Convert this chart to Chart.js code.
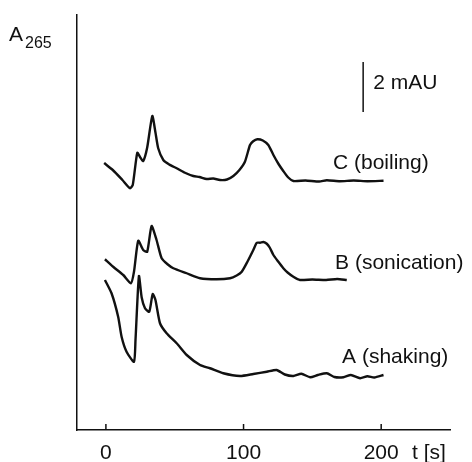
<!DOCTYPE html>
<html>
<head>
<meta charset="utf-8">
<script src="https://cdn.jsdelivr.net/npm/chart.js@4"></script>
<style>
  html, body { margin: 0; padding: 0; background: #fff; }
  #wrap { width: 472px; height: 462px; }
</style>
</head>
<body>
<div id="wrap"><canvas id="traceChart" width="472" height="462"></canvas></div>
<script>
// time axis ticks [s]
const xTicks = [0, 100, 200];

// C (boiling)
const timeC = [-1.3, 5, 12, 17.5, 19.5, 22.8, 25, 27.1, 30, 33.7, 36, 38, 41.7, 46, 51.4, 57, 63.5, 68, 73.2, 78, 82.9, 88, 92.6, 97, 101, 104.7, 107, 110, 114, 118, 121.7, 125.3, 129, 132.5, 136.2, 145, 155, 160.5, 170, 180, 190, 201.7];
const absC = [10.68, 10.4, 10.0, 9.67, 9.8, 11.09, 10.9, 10.76, 11.3, 12.56, 11.9, 11.27, 10.8, 10.62, 10.47, 10.3, 10.16, 10.12, 10.04, 10.06, 10.0, 10.02, 10.16, 10.4, 10.73, 11.4, 11.55, 11.63, 11.58, 11.4, 11.0, 10.65, 10.35, 10.1, 9.96, 9.98, 9.94, 9.99, 9.95, 9.98, 9.95, 9.97];

// B (sonication)
const timeB = [-0.7, 5.3, 12.6, 18.2, 20.4, 23.5, 27.1, 30, 33.2, 36.8, 40.5, 45, 49, 58.7, 68.4, 80.5, 90.2, 95, 98.7, 103, 107.1, 109.6, 112, 114.5, 116.9, 119, 121.7, 125, 128.9, 132, 136.2, 141, 150, 160, 168, 175];
const absB = [6.83, 6.53, 6.2, 5.87, 6.33, 7.57, 7.2, 7.13, 8.16, 7.6, 6.87, 6.62, 6.47, 6.27, 6.07, 6.03, 6.07, 6.18, 6.33, 6.75, 7.2, 7.49, 7.49, 7.52, 7.45, 7.3, 7.0, 6.75, 6.47, 6.3, 6.13, 6.0, 6.02, 6.0, 6.04, 6.0];

// A (shaking)
const timeA = [-0.7, 4.1, 8.9, 11.4, 15, 20.4, 21.5, 24, 26, 28.4, 31.5, 34, 36, 39.3, 44.1, 51.4, 58.7, 68.4, 75.6, 85.3, 97.5, 107.1, 116.9, 124, 130, 136.2, 142, 148.4, 154, 160.5, 166, 172.6, 178, 184.7, 190, 195, 201.7];
const absA = [6.0, 5.47, 4.53, 3.73, 3.13, 2.73, 3.6, 6.16, 5.3, 4.87, 4.73, 5.44, 5.2, 4.27, 3.87, 3.47, 3.0, 2.6, 2.47, 2.27, 2.16, 2.24, 2.33, 2.4, 2.22, 2.16, 2.25, 2.11, 2.2, 2.27, 2.12, 2.11, 2.2, 2.07, 2.15, 2.1, 2.2];

// curve labels: [text, t, A]
const curveLabels = [
  ['C (boiling)', 165, 10.68],
  ['B (sonication)', 166.5, 6.68],
  ['A (shaking)', 171.6, 2.92],
];

// 2 mAU scale bar
const barTime = 186.9;
const barFrom = 12.72;
const barTo = 14.72;

const FONT = '"Liberation Sans", Arial, sans-serif';
const INK = '#111';

const toPoints = (ts, ys) => ts.map((t, i) => ({ x: t, y: ys[i] }));

const trace = (label, ts, ys) => ({
  label: label,
  data: toPoints(ts, ys),
  borderColor: INK,
  borderWidth: 2.4,
  pointRadius: 0,
  tension: 0.2,
  fill: false,
});

// inward tick marks, labels, scale bar
const decorations = {
  id: 'decorations',
  afterDraw(chart) {
    const ctx = chart.ctx;
    const xs = chart.scales.x;
    const ys = chart.scales.y;
    const area = chart.chartArea;
    ctx.save();
    ctx.strokeStyle = INK;
    ctx.fillStyle = INK;
    ctx.lineWidth = 1.5;

    xTicks.forEach(v => {
      const px = xs.getPixelForValue(v);
      ctx.beginPath();
      ctx.moveTo(px, area.bottom);
      ctx.lineTo(px, area.bottom - 6);
      ctx.stroke();
    });

    // scale bar
    const bx = xs.getPixelForValue(barTime);
    ctx.beginPath();
    ctx.moveTo(bx, ys.getPixelForValue(barFrom));
    ctx.lineTo(bx, ys.getPixelForValue(barTo));
    ctx.stroke();
    ctx.font = '21px ' + FONT;
    ctx.textBaseline = 'middle';
    ctx.textAlign = 'left';
    ctx.fillText('2 mAU', xs.getPixelForValue(194.2), ys.getPixelForValue(13.88));

    curveLabels.forEach(([txt, t, a]) => {
      ctx.fillText(txt, xs.getPixelForValue(t), ys.getPixelForValue(a));
    });

    // axis titles
    ctx.textBaseline = 'alphabetic';
    ctx.font = '21px ' + FONT;
    ctx.fillText('A', 9, 41);
    ctx.font = '16px ' + FONT;
    ctx.fillText('265', 25, 48);
    ctx.font = '21px ' + FONT;
    ctx.fillText('t [s]', 412, 459);
    ctx.restore();
  }
};

const canvas = document.getElementById('traceChart');
const context = canvas.getContext('2d');

new Chart(context, {
  type: 'line',
  data: {
    datasets: [
      trace('C (boiling)', timeC, absC),
      trace('B (sonication)', timeB, absB),
      trace('A (shaking)', timeA, absA),
    ],
  },
  options: {
    responsive: false,
    animation: false,
    layout: { padding: { left: 77, right: 22, top: 15, bottom: 0 } },
    plugins: {
      legend: { display: false },
      tooltip: { enabled: false },
    },
    scales: {
      x: {
        type: 'linear',
        min: -21,
        max: 250,
        grid: { display: false },
        border: { display: true, color: INK, width: 1.5 },
        afterBuildTicks: (scale) => { scale.ticks = xTicks.map(v => ({ value: v })); },
        afterFit: (scale) => { scale.height = 32; },
        ticks: {
          color: INK,
          padding: 3,
          maxRotation: 0,
          font: { family: FONT, size: 21 },
        },
      },
      y: {
        type: 'linear',
        min: 0,
        max: 16.6,
        grid: { display: false },
        border: { display: true, color: INK, width: 1.5 },
        ticks: { display: false },
        afterFit: (scale) => { scale.width = 0; },
      },
    },
  },
  plugins: [decorations],
});
</script>
</body>
</html>
